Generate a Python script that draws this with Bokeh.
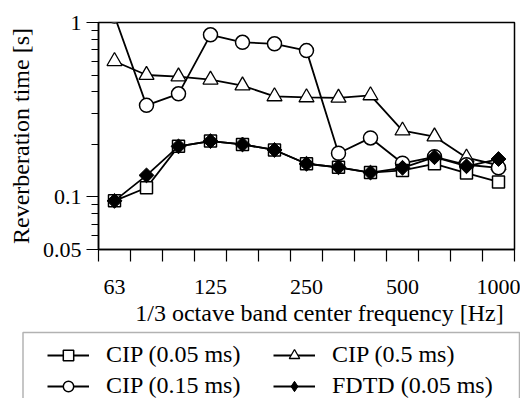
import math
from bokeh.plotting import figure
from bokeh.models import Range1d, FixedTicker, Legend, LegendItem, Label, BoxAnnotation
from bokeh.layouts import column
from bokeh.embed import file_html
from bokeh.resources import INLINE

# Data
freqs = ["63", "80", "100", "125", "160", "200", "250", "315", "400", "500", "630", "800", "1000"]
x_idx = list(range(len(freqs)))
cip_005 = [0.095, 0.113, 0.195, 0.209, 0.200, 0.186, 0.155, 0.148, 0.138, 0.142, 0.155, 0.137, 0.122]
cip_015 = [1.09, 0.335, 0.39, 0.85, 0.77, 0.755, 0.69, 0.178, 0.218, 0.156, 0.170, 0.153, 0.147]
cip_05 = [0.60, 0.50, 0.49, 0.47, 0.435, 0.377, 0.372, 0.370, 0.382, 0.240, 0.222, 0.168, 0.152]
fdtd_005 = [0.095, 0.133, 0.195, 0.209, 0.200, 0.186, 0.155, 0.148, 0.138, 0.147, 0.169, 0.150, 0.165]

labeled_ticks = [0, 3, 6, 9, 12]
y_ticks = [0.05, 0.1, 1]
y_minor = [0.06, 0.07, 0.08, 0.09, 0.2, 0.3, 0.4, 0.5, 0.6, 0.7, 0.8, 0.9]

FONT = "Liberation Serif"

styles = {
    "CIP (0.05 ms)": dict(marker="square", size=12, fill_color="white", lw=1.5, angle=0.0,
                          leg_marker="square", leg_size=9.6),
    "CIP (0.15 ms)": dict(marker="circle", size=14, fill_color="white", lw=1.5, angle=0.0,
                          leg_marker="circle", leg_size=11),
    "CIP (0.5 ms)": dict(marker="triangle", size=15, fill_color="white", lw=1.3, angle=0.0,
                         leg_marker="triangle", leg_size=12),
    "FDTD (0.05 ms)": dict(marker="square", size=10.5, fill_color="black", lw=1.0, angle=math.pi / 4,
                           leg_marker="diamond", leg_size=15),
}
LW = 1.8
series = [("CIP (0.5 ms)", cip_05), ("CIP (0.15 ms)", cip_015),
          ("CIP (0.05 ms)", cip_005), ("FDTD (0.05 ms)", fdtd_005)]

# ---------------- main plot ----------------
p = figure(width=520, height=300, output_backend="svg", toolbar_location=None,
           y_axis_type="log", x_range=Range1d(-0.5, 12.5), y_range=Range1d(0.05, 1),
           min_border_left=98, min_border_right=6, min_border_top=22, min_border_bottom=51)
p.frame_align = False
p.xgrid.visible = False
p.ygrid.visible = False
p.outline_line_color = "black"
p.outline_line_width = 1.5
p.background_fill_color = "white"
p.border_fill_color = "white"

xa = p.xaxis[0]
xa.ticker = FixedTicker(ticks=labeled_ticks, minor_ticks=[i - 0.5 for i in range(len(freqs) + 1)])
xa.major_label_overrides = {i: freqs[i] for i in labeled_ticks}
xa.major_tick_out = 0
xa.major_tick_in = 0
xa.minor_tick_out = 12
xa.minor_tick_in = 0
xa.major_label_standoff = 18
xa.major_label_text_font = FONT
xa.major_label_text_font_size = "22px"
xa.major_label_text_color = "black"
xa.axis_line_width = 1.5
xa.minor_tick_line_width = 1.2

ya = p.yaxis[0]
ya.ticker = FixedTicker(ticks=y_ticks, minor_ticks=y_minor)
ya.major_label_overrides = {0.05: "0.05", 0.1: "0.1", 1: "1"}
ya.major_tick_out = 12
ya.major_tick_in = 0
ya.minor_tick_out = 7
ya.minor_tick_in = 0
ya.major_label_standoff = 5
ya.major_label_text_font = FONT
ya.major_label_text_font_size = "22px"
ya.major_label_text_color = "black"
ya.axis_line_width = 1.5
ya.major_tick_line_width = 1.2
ya.minor_tick_line_width = 1.2
ya.axis_label = "Reverberation time [s]"
ya.axis_label_text_font = FONT
ya.axis_label_text_font_size = "24px"
ya.axis_label_text_font_style = "normal"
ya.axis_label_text_color = "black"
ya.axis_label_standoff = 6

for name, vals in series:
    st = styles[name]
    p.line(x_idx, vals, line_color="black", line_width=LW)
    p.scatter(x_idx, vals, marker=st["marker"], size=st["size"], angle=st["angle"],
              fill_color=st["fill_color"], line_color="black", line_width=st["lw"])

# ---------------- axis title + legend panel ----------------
p2 = figure(width=520, height=98, output_backend="svg", toolbar_location=None,
            x_range=Range1d(0, 520), y_range=Range1d(98, 0),
            x_axis_location=None, y_axis_location=None,
            min_border_left=0, min_border_right=0, min_border_top=0, min_border_bottom=0)
p2.frame_align = False
p2.xgrid.visible = False
p2.ygrid.visible = False
p2.outline_line_color = None
p2.background_fill_color = "white"
p2.border_fill_color = "white"

p2.add_layout(Label(x=319, y=12, text="1/3 octave band center frequency [Hz]",
                    text_align="center", text_baseline="middle",
                    text_font=FONT, text_font_size="24px", text_color="black"))
p2.add_layout(BoxAnnotation(left=22.5, right=519, top=32, bottom=140,
                            fill_alpha=0, line_color="black", line_width=1.5))

rend = {}
for name, vals in series:
    st = styles[name]
    lr = p2.line(x_idx, vals, line_color="black", line_width=LW, visible=False)
    mr = p2.scatter(x_idx, vals, marker=st["leg_marker"], size=st["leg_size"],
                    fill_color=st["fill_color"], line_color="black", line_width=st["lw"],
                    visible=False)
    rend[name] = [lr, mr]

legend = Legend(items=[LegendItem(label=n, renderers=rend[n]) for n in
                       ["CIP (0.05 ms)", "CIP (0.15 ms)", "CIP (0.5 ms)", "FDTD (0.05 ms)"]],
                location=(47, -1), orientation="vertical", ncols=2,
                padding=0, spacing=4, margin=0, glyph_width=42, glyph_height=26,
                label_height=26, label_width=163, label_standoff=17,
                label_text_font=FONT, label_text_font_size="24px", label_text_color="black",
                border_line_alpha=0, background_fill_alpha=0, inactive_fill_alpha=0)
p2.add_layout(legend, "center")

layout = column(p, p2, spacing=0)
open("out.html", "w").write(file_html(layout, INLINE))
